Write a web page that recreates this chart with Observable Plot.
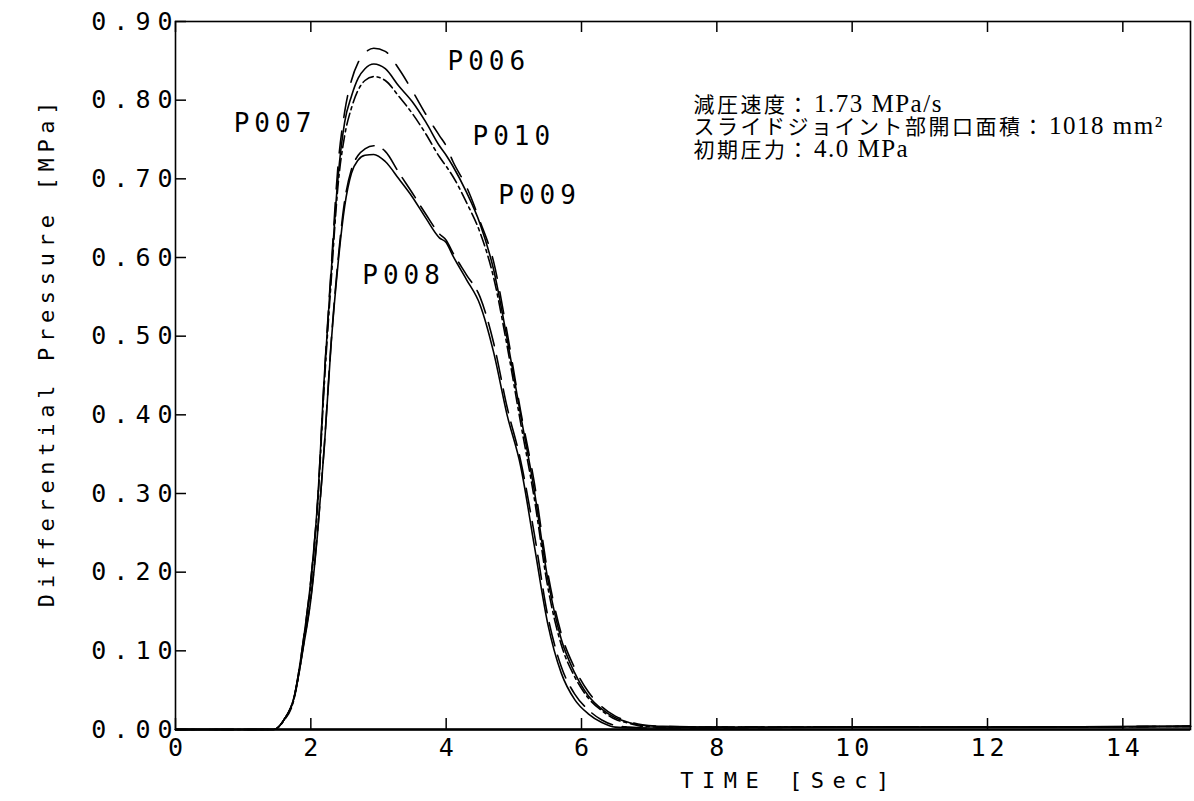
<!DOCTYPE html>
<html><head><meta charset="utf-8">
<script src="https://cdn.jsdelivr.net/npm/d3@7"></script>
<script src="https://cdn.jsdelivr.net/npm/@observablehq/plot@0.6"></script>
<style>
body{margin:0;background:#fff}
#chart svg{display:block;background:#fff}
g[aria-label="y-axis tick label"] text{letter-spacing:7px}
g[aria-label="x-axis tick label"] text{letter-spacing:4px}
g[aria-description="curve-labels"] text{letter-spacing:5px}
g[aria-description="y-title"] text{letter-spacing:5.7px}
g[aria-description="x-title"] text{letter-spacing:8.5px}
g[aria-description="note"] tspan.jp{letter-spacing:2.5px;font-family:'Noto Sans CJK JP';font-size:21px}
g[aria-description="note"] tspan.lat{letter-spacing:1.5px;font-family:'Liberation Serif';font-size:25px}
</style>
</head><body><div id="chart"></div>
<script>
// Time axis samples [s]
const time = [0, 1.45, 1.6, 1.75, 1.9, 2.0, 2.1, 2.2, 2.3, 2.4, 2.5, 2.6, 2.7, 2.8, 2.93, 3.1, 3.3, 3.5, 3.7, 3.9, 4.0, 4.1, 4.3, 4.5, 4.7, 4.9, 5.1, 5.3, 5.5, 5.7, 5.9, 6.1, 6.3, 6.5, 6.7, 6.9, 7.2, 8, 10, 12, 15];
// Differential pressure [MPa]
const p006 = [0, 0, 0.012, 0.04, 0.12, 0.19, 0.29, 0.45, 0.585, 0.715, 0.785, 0.825, 0.848, 0.86, 0.866, 0.862, 0.84, 0.812, 0.782, 0.755, 0.742, 0.722, 0.69, 0.646, 0.595, 0.505, 0.405, 0.315, 0.2, 0.122, 0.078, 0.048, 0.029, 0.017, 0.01, 0.006, 0.004, 0.003, 0.003, 0.003, 0.004];
const p007 = [0, 0, 0.012, 0.04, 0.12, 0.19, 0.29, 0.45, 0.58, 0.70, 0.772, 0.805, 0.828, 0.84, 0.846, 0.84, 0.818, 0.798, 0.772, 0.742, 0.73, 0.716, 0.683, 0.643, 0.585, 0.497, 0.40, 0.305, 0.192, 0.115, 0.072, 0.043, 0.026, 0.015, 0.009, 0.005, 0.004, 0.003, 0.003, 0.003, 0.004];
const p010 = [0, 0, 0.011, 0.038, 0.115, 0.185, 0.285, 0.44, 0.57, 0.69, 0.755, 0.79, 0.813, 0.825, 0.83, 0.825, 0.805, 0.783, 0.757, 0.728, 0.716, 0.703, 0.67, 0.632, 0.575, 0.488, 0.39, 0.295, 0.182, 0.108, 0.067, 0.04, 0.024, 0.013, 0.008, 0.004, 0.003, 0.003, 0.003, 0.003, 0.004];
const p009 = [0, 0, 0.012, 0.04, 0.112, 0.168, 0.252, 0.362, 0.492, 0.595, 0.672, 0.712, 0.73, 0.738, 0.742, 0.735, 0.708, 0.682, 0.655, 0.63, 0.622, 0.606, 0.578, 0.55, 0.492, 0.41, 0.342, 0.25, 0.145, 0.08, 0.045, 0.025, 0.012, 0.005, 0.003, 0.002, 0.002, 0.002, 0.003, 0.003, 0.004];
const p008 = [0, 0, 0.012, 0.04, 0.11, 0.165, 0.25, 0.36, 0.49, 0.59, 0.665, 0.707, 0.724, 0.73, 0.731, 0.722, 0.70, 0.677, 0.65, 0.625, 0.619, 0.602, 0.572, 0.54, 0.48, 0.40, 0.335, 0.235, 0.135, 0.072, 0.038, 0.02, 0.009, 0.003, 0.002, 0.002, 0.002, 0.002, 0.003, 0.003, 0.004];

const seriesNames = ["P006", "P007", "P010", "P009", "P008"];
const seriesValues = [p006, p007, p010, p009, p008];

const xTicks = [0, 2, 4, 6, 8, 10, 12, 14];
const yTicks = [0, 0.1, 0.2, 0.3, 0.4, 0.5, 0.6, 0.7, 0.8, 0.9];

const xTitle = "TIME [Sec]";
const yTitle = "Differential Pressure [MPa]";

// curve label anchors (data units)
const labelNames = ["P006", "P007", "P010", "P009", "P008"];
const labelT = [4.02, 0.86, 4.39, 4.77, 2.76];
const labelV = [0.849, 0.770, 0.753, 0.679, 0.577];

// annotation text (three lines, one block)
const noteLines = ["減圧速度：1.73 MPa/s", "スライドジョイント部開口面積：1018 mm²", "初期圧力：4.0 MPa"];
const noteT = 7.655;
const noteV = 0.766;

// styles
const dashes = {P006: "22,14", P007: null, P010: "12,4,3,4", P009: "24,10", P008: null};

const rows = seriesNames.flatMap((s, i) => time.map((t, j) => ({s, t, v: seriesValues[i][j]})));
const labels = labelNames.map((n, i) => ({n, t: labelT[i], v: labelV[i]}));
const notes = [{txt: noteLines.join("\n"), t: noteT, v: noteV}];

const mono = "DejaVu Sans Mono";
const W = 1194, H = 801, mL = 175, mR = 4, mT = 21, mB = 72;
const frameW = W - mL - mR, frameH = H - mT - mB;
const tick = 11;

const plot = Plot.plot({
  width: W,
  height: H,
  marginLeft: mL,
  marginRight: mR,
  marginTop: mT,
  marginBottom: mB,
  style: {background: "#fff", color: "#000"},
  x: {domain: [0, 15]},
  y: {domain: [0, 0.9]},
  marks: [
    Plot.frame({stroke: "#000", strokeWidth: 1.6}),
    Plot.ruleY([0], {stroke: "#000", strokeWidth: 2.6}),
    // inward ticks: bottom, top, left
    Plot.tickX(xTicks, {x: d => d, insetTop: frameH - tick, stroke: "#000", strokeWidth: 1.5}),
    Plot.tickX(xTicks, {x: d => d, insetBottom: frameH - tick, stroke: "#000", strokeWidth: 1.5}),
    Plot.tickY(yTicks, {y: d => d, insetRight: frameW - tick, stroke: "#000", strokeWidth: 1.5}),
    Plot.axisY(yTicks, {anchor: "left", tickSize: 0, tickPadding: 0, dx: 4, tickFormat: d3.format(".2f"), fontSize: 25, fontFamily: mono, label: null}),
    Plot.axisX(xTicks, {anchor: "bottom", tickSize: 0, tickPadding: 9, dx: 2, tickFormat: d3.format("d"), fontSize: 25, fontFamily: mono, label: null}),
    ...seriesNames.map(name => Plot.line(rows.filter(d => d.s === name), {
      x: "t", y: "v", curve: "monotone-x", stroke: "#000", strokeWidth: 1.6,
      strokeDasharray: dashes[name] ?? undefined
    })),
    Plot.text(labels, {x: "t", y: "v", text: "n", textAnchor: "start", lineAnchor: "middle", fontSize: 26, fontFamily: mono, fill: "#000", ariaDescription: "curve-labels"}),
    Plot.text(notes, {x: "t", y: "v", text: "txt", textAnchor: "start", lineAnchor: "middle", lineHeight: 1.07, fontSize: 21, fontFamily: "Noto Sans CJK JP", fill: "#000", ariaDescription: "note"}),
    Plot.text([yTitle], {frameAnchor: "left", textAnchor: "middle", rotate: -90, dx: -129, dy: -24, fontSize: 22, fontFamily: mono, fill: "#000", lineAnchor: "middle", ariaDescription: "y-title"}),
    Plot.text([xTitle], {frameAnchor: "bottom", textAnchor: "middle", dx: 106, dy: 51, fontSize: 22, fontFamily: mono, fill: "#000", lineAnchor: "middle", ariaDescription: "x-title"})
  ]
});

// within each note line, set the Japanese part and the Latin (serif) part apart
d3.select(plot).selectAll('g[aria-description="note"] text > tspan').each(function() {
  const s = this.textContent;
  const k = s.indexOf("：") + 1;
  const el = d3.select(this);
  el.text(null);
  el.append("tspan").attr("class", "jp").text(s.slice(0, k));
  el.append("tspan").attr("class", "lat").attr("dx", 3).text(s.slice(k));
});

document.getElementById("chart").appendChild(plot);
</script>
</body></html>
